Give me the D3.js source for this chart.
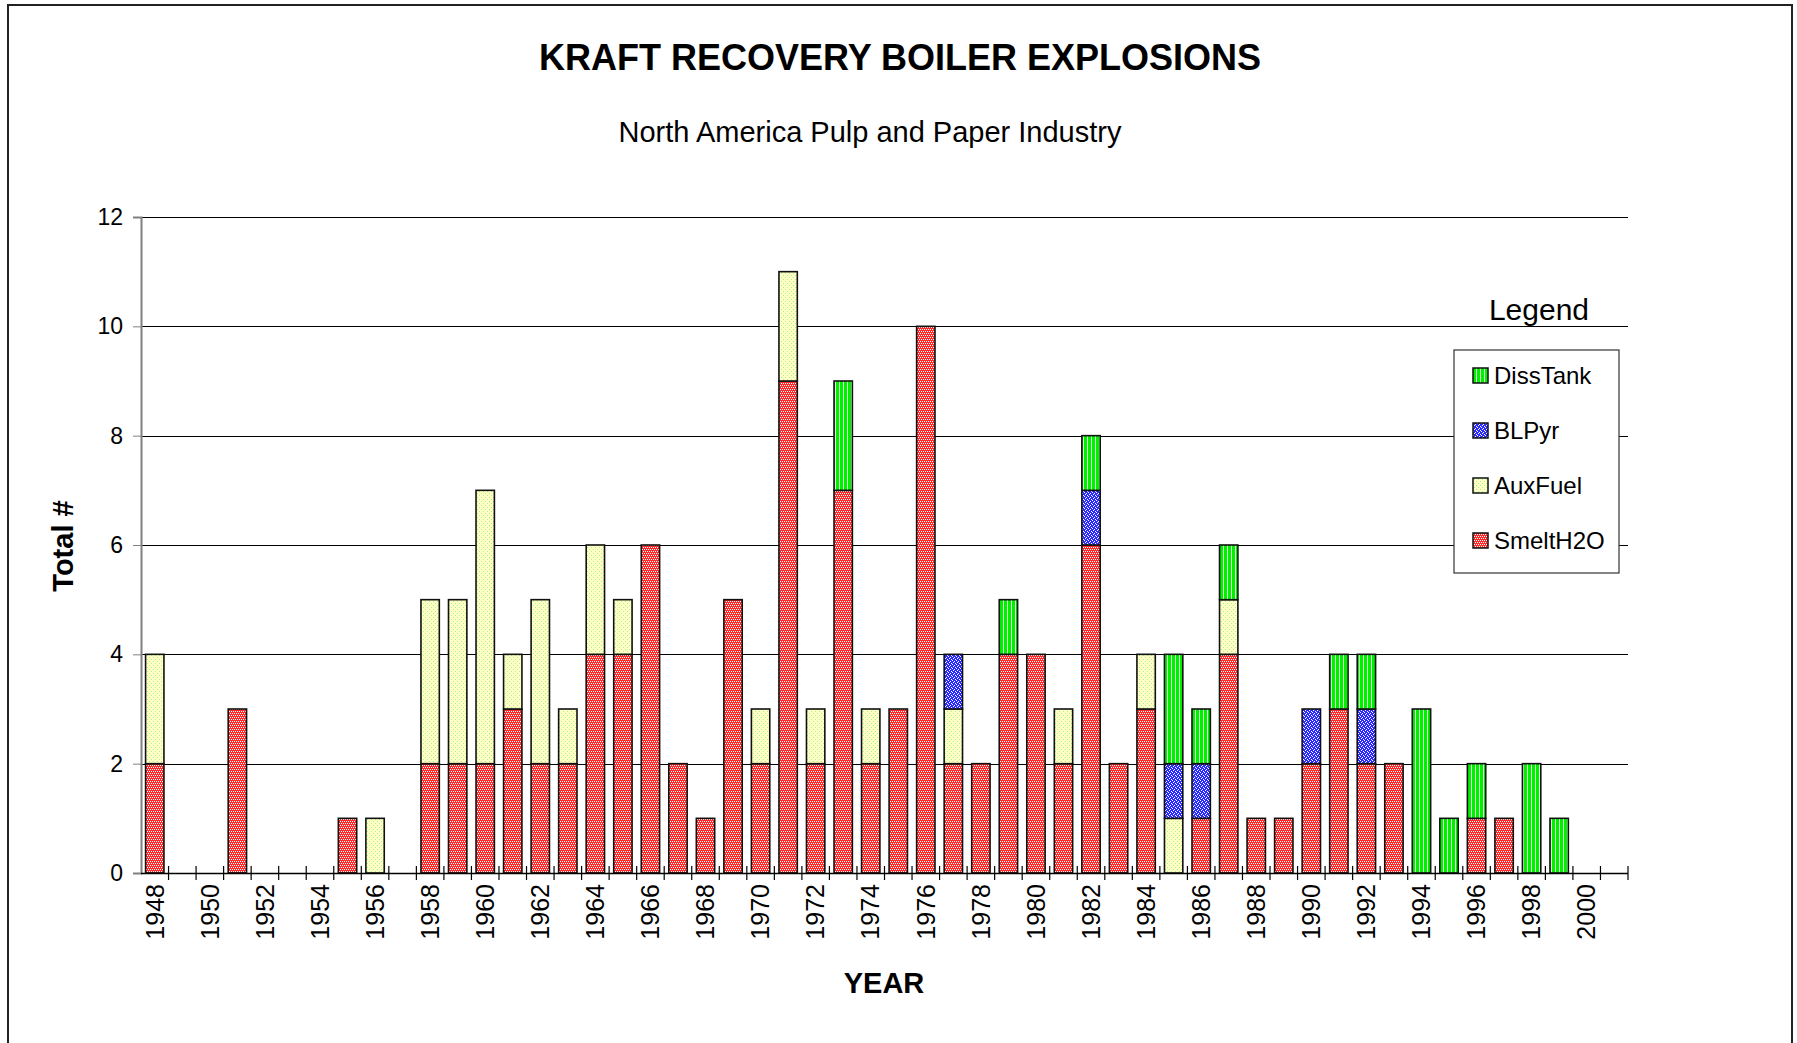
<!DOCTYPE html>
<html>
<head>
<meta charset="utf-8">
<script src="https://cdn.jsdelivr.net/npm/d3@7"></script>
<style>
  body { margin: 0; background: #fff; }
  text { font-family: "Liberation Sans", Arial, sans-serif; fill: #000; }
</style>
</head>
<body>
<div id="chart"></div>
<script>
// categories: one bar slot per year
const years = [1948, 1949, 1950, 1951, 1952, 1953, 1954, 1955, 1956, 1957,
    1958, 1959, 1960, 1961, 1962, 1963, 1964, 1965, 1966, 1967,
    1968, 1969, 1970, 1971, 1972, 1973, 1974, 1975, 1976, 1977,
    1978, 1979, 1980, 1981, 1982, 1983, 1984, 1985, 1986, 1987,
    1988, 1989, 1990, 1991, 1992, 1993, 1994, 1995, 1996, 1997,
    1998, 1999, 2000, 2001];

// series values, same order as years
const smeltH2O = [2, 0, 0, 3, 0, 0, 0, 1, 0, 0,
    2, 2, 2, 3, 2, 2, 4, 4, 6, 2,
    1, 5, 2, 9, 2, 7, 2, 3, 10, 2,
    2, 4, 4, 2, 6, 2, 3, 0, 1, 4,
    1, 1, 2, 3, 2, 2, 0, 0, 1, 1,
    0, 0, 0, 0];
const auxFuel = [2, 0, 0, 0, 0, 0, 0, 0, 1, 0,
    3, 3, 5, 1, 3, 1, 2, 1, 0, 0,
    0, 0, 1, 2, 1, 0, 1, 0, 0, 1,
    0, 0, 0, 1, 0, 0, 1, 1, 0, 1,
    0, 0, 0, 0, 0, 0, 0, 0, 0, 0,
    0, 0, 0, 0];
const blPyr = [0, 0, 0, 0, 0, 0, 0, 0, 0, 0,
    0, 0, 0, 0, 0, 0, 0, 0, 0, 0,
    0, 0, 0, 0, 0, 0, 0, 0, 0, 1,
    0, 0, 0, 0, 1, 0, 0, 1, 1, 0,
    0, 0, 1, 0, 1, 0, 0, 0, 0, 0,
    0, 0, 0, 0];
const dissTank = [0, 0, 0, 0, 0, 0, 0, 0, 0, 0,
    0, 0, 0, 0, 0, 0, 0, 0, 0, 0,
    0, 0, 0, 0, 0, 2, 0, 0, 0, 0,
    0, 1, 0, 0, 1, 0, 0, 2, 1, 1,
    0, 0, 0, 1, 1, 0, 3, 1, 1, 0,
    2, 1, 0, 0];

const seriesKeys = ["SmeltH2O", "AuxFuel", "BLPyr", "DissTank"];
const legendOrder = ["DissTank", "BLPyr", "AuxFuel", "SmeltH2O"];
const yTicks = [0, 2, 4, 6, 8, 10, 12];
const xTickLabels = [1948, 1950, 1952, 1954, 1956, 1958, 1960, 1962, 1964, 1966,
    1968, 1970, 1972, 1974, 1976, 1978, 1980, 1982, 1984, 1986,
    1988, 1990, 1992, 1994, 1996, 1998, 2000];

(function() {
    const width = 1797;
    const height = 1043;
    const plot = { left: 141, right: 1628, top: 217, bottom: 873 };

    const svg = d3.select("#chart")
        .append("svg")
        .attr("width", width)
        .attr("height", height)
        .attr("viewBox", [0, 0, width, height]);

    // fill patterns imitating the old spreadsheet hatches
    const defs = svg.append("defs");
    function dotPattern(id, base, dot, size, dots) {
        const p = defs.append("pattern")
            .attr("id", id)
            .attr("patternUnits", "userSpaceOnUse")
            .attr("width", size)
            .attr("height", size);
        p.append("rect").attr("width", size).attr("height", size).attr("fill", base);
        dots.forEach(d => {
            p.append("rect").attr("x", d[0]).attr("y", d[1])
                .attr("width", 1).attr("height", 1).attr("fill", dot);
        });
    }
    dotPattern("pat-smelt", "#ff2a2a", "#ffffff", 4, [[0, 1], [2, 1], [1, 3], [3, 3]]);
    dotPattern("pat-aux", "#ffffc4", "#a8f0a0", 4, [[1, 1], [3, 3]]);
    dotPattern("pat-bl", "#2a2aff", "#ffffff", 4, [[0, 0], [2, 1], [1, 2], [3, 3]]);
    const stripe = defs.append("pattern")
        .attr("id", "pat-diss")
        .attr("patternUnits", "userSpaceOnUse")
        .attr("width", 4)
        .attr("height", 4);
    stripe.append("rect").attr("width", 4).attr("height", 4).attr("fill", "#00f000");
    stripe.append("rect").attr("x", 3).attr("width", 1).attr("height", 4).attr("fill", "#d8ffd8");

    const fills = {
        SmeltH2O: "url(#pat-smelt)",
        AuxFuel: "url(#pat-aux)",
        BLPyr: "url(#pat-bl)",
        DissTank: "url(#pat-diss)",
    };

    // outer frame
    svg.append("rect")
        .attr("x", 8).attr("y", 5)
        .attr("width", 1784).attr("height", 1060)
        .attr("fill", "none")
        .attr("stroke", "#222")
        .attr("stroke-width", 2);

    const x = d3.scaleBand()
        .domain(years)
        .range([plot.left, plot.right])
        .paddingInner(1 / 3)
        .paddingOuter(1 / 6);

    const y = d3.scaleLinear()
        .domain([0, 12])
        .range([plot.bottom, plot.top]);

    // gridlines
    svg.append("g")
        .selectAll("line")
        .data(yTicks)
        .join("line")
        .attr("x1", plot.left)
        .attr("x2", plot.right)
        .attr("y1", d => Math.round(y(d)) + 0.5)
        .attr("y2", d => Math.round(y(d)) + 0.5)
        .attr("stroke", "#000")
        .attr("stroke-width", 1);

    // y axis
    const yAxis = svg.append("g")
        .attr("transform", `translate(${plot.left},0)`)
        .call(d3.axisLeft(y).tickValues(yTicks).tickSize(8).tickPadding(10));
    yAxis.select(".domain").attr("stroke", "#808080").attr("stroke-width", 2);
    yAxis.selectAll(".tick line").attr("stroke", "#808080");
    yAxis.selectAll(".tick text")
        .style("font-family", "'Liberation Sans', Arial, sans-serif")
        .style("font-size", "23px")
        .attr("fill", "#000");

    // stacked bars
    const table = years.map((yr, i) => ({
        year: yr,
        SmeltH2O: smeltH2O[i],
        AuxFuel: auxFuel[i],
        BLPyr: blPyr[i],
        DissTank: dissTank[i],
    }));
    const stacked = d3.stack().keys(seriesKeys)(table);

    svg.append("g")
        .selectAll("g")
        .data(stacked)
        .join("g")
        .attr("fill", d => fills[d.key])
        .selectAll("rect")
        .data(d => d.filter(s => s[1] > s[0]))
        .join("rect")
        .attr("x", d => x(d.data.year))
        .attr("y", d => y(d[1]))
        .attr("width", x.bandwidth())
        .attr("height", d => y(d[0]) - y(d[1]))
        .attr("stroke", "#111")
        .attr("stroke-width", 1.6);

    // x axis line and cross ticks between categories
    svg.append("line")
        .attr("x1", plot.left).attr("x2", plot.right)
        .attr("y1", plot.bottom + 0.5).attr("y2", plot.bottom + 0.5)
        .attr("stroke", "#000").attr("stroke-width", 1.5);
    const step = x.step();
    svg.append("g")
        .selectAll("line")
        .data(years)
        .join("line")
        .attr("x1", d => x(d) - x.paddingOuter() * step + step)
        .attr("x2", d => x(d) - x.paddingOuter() * step + step)
        .attr("y1", plot.bottom - 7)
        .attr("y2", plot.bottom + 7)
        .attr("stroke", "#000")
        .attr("stroke-width", 1.2);

    svg.append("g")
        .selectAll("text")
        .data(xTickLabels)
        .join("text")
        .attr("transform", d => `translate(${x(d) + x.bandwidth() / 2},${plot.bottom + 11}) rotate(-90)`)
        .attr("text-anchor", "end")
        .attr("dy", "0.35em")
        .style("font-size", "25px")
        .text(d => d);

    // titles
    svg.append("text")
        .attr("x", 900).attr("y", 70)
        .attr("text-anchor", "middle")
        .style("font-size", "36px")
        .style("font-weight", "bold")
        .text("KRAFT RECOVERY BOILER EXPLOSIONS");

    svg.append("text")
        .attr("x", 870).attr("y", 142)
        .attr("text-anchor", "middle")
        .style("font-size", "29px")
        .text("North America Pulp and Paper Industry");

    svg.append("text")
        .attr("x", 884).attr("y", 993)
        .attr("text-anchor", "middle")
        .style("font-size", "29px")
        .style("font-weight", "bold")
        .text("YEAR");

    svg.append("text")
        .attr("transform", "translate(73,546) rotate(-90)")
        .attr("text-anchor", "middle")
        .style("font-size", "29px")
        .style("font-weight", "bold")
        .text("Total #");

    // legend
    svg.append("text")
        .attr("x", 1539).attr("y", 320)
        .attr("text-anchor", "middle")
        .style("font-size", "30px")
        .text("Legend");

    const legend = svg.append("g");
    legend.append("rect")
        .attr("x", 1454).attr("y", 350)
        .attr("width", 165).attr("height", 223)
        .attr("fill", "#fff")
        .attr("stroke", "#333")
        .attr("stroke-width", 1.2);

    const item = legend.selectAll("g.item")
        .data(legendOrder)
        .join("g")
        .attr("class", "item")
        .attr("transform", (d, i) => `translate(1473,${376 + i * 55})`);
    item.append("rect")
        .attr("x", 0).attr("y", -8)
        .attr("width", 15).attr("height", 15)
        .attr("fill", d => fills[d])
        .attr("stroke", "#111")
        .attr("stroke-width", 1.5);
    item.append("text")
        .attr("x", 21).attr("dy", "0.35em")
        .style("font-size", "24px")
        .text(d => d);
})();
</script>
</body>
</html>
